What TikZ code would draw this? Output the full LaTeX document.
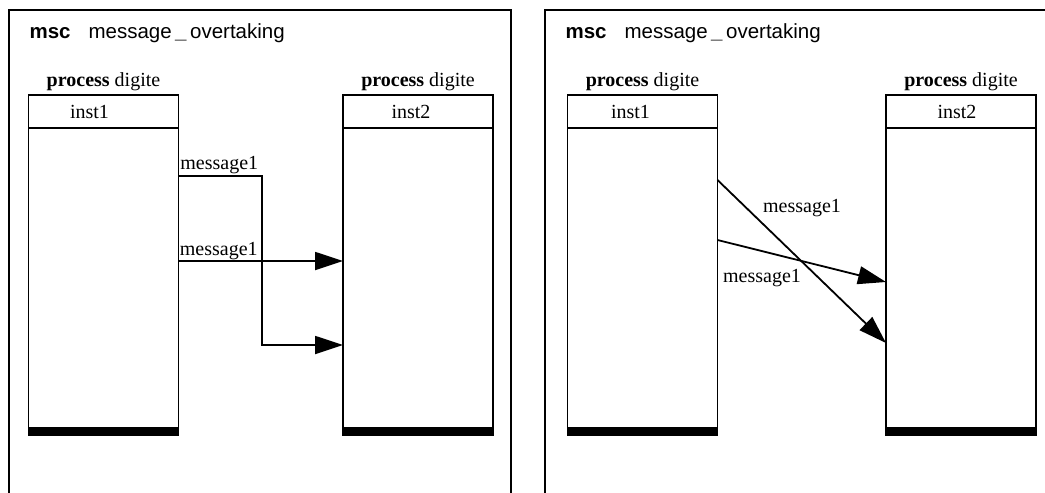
\documentclass[tikz,border=0pt]{standalone}
\usepackage{fontspec}
\setmainfont{Liberation Serif}
\newfontfamily\titlefont{Liberation Sans}
\usetikzlibrary{arrows.meta,positioning}

\begin{document}
\begin{tikzpicture}[
    x=1pt, y=-1pt,
    every node/.style={font=\fontsize{20}{24}\selectfont},
    frameline/.style={line width=1.8pt},
    insthead/.style={draw, line width=1.8pt, outer sep=0pt, inner sep=0pt, minimum width=150pt, minimum height=33pt},
    instbody/.style={draw, line width=1.8pt, outer sep=0pt, inner sep=0pt, minimum width=150pt, minimum height=307pt},
    instend/.style={line width=8pt},
    msgarrow/.style={-{Triangle[length=28pt, width=18pt]}, line width=1.8pt},
    msglabel/.style={inner sep=1pt},
    mscname/.style={anchor=base west, font=\titlefont\fontsize{20.5}{24}\selectfont}
  ]
    \useasboundingbox (0,0) rectangle (1045,493);

    % left diagram
    \draw[frameline] (9,493) |- (511,10) -- (511,493);
    \node[mscname] (titleA) at (26,38) {\textbf{msc}\hspace{18pt}message\,\textbf{\_}\,overtaking};
    \node[insthead] (headA) at (103.5,111.5) {\hspace*{-28pt}inst1};
    \node[instbody, below=0pt of headA] (bodyA) {};
    \node[insthead] (headB) at (418,111.5) {\hspace*{-14pt}inst2};
    \node[instbody, below=0pt of headB] (bodyB) {};
    \node[anchor=base] (procA) at (headA.north |- 0,86) {\textbf{process} digite};
    \node[anchor=base] (procB) at (headB.north |- 0,86) {\textbf{process} digite};
    \draw[instend] ([yshift=4pt]bodyA.south west) -- ([yshift=4pt]bodyA.south east);
    \draw[instend] ([yshift=4pt]bodyB.south west) -- ([yshift=4pt]bodyB.south east);
    \coordinate (bendA) at (262,345);
    \draw[msgarrow] (bodyA.east |- 0,176) node[msglabel, above right] {message1} -| (bendA) -- (bodyB.west |- bendA);
    \draw[msgarrow] (bodyA.east |- 0,261) node[msglabel, above right, inner sep=0.5pt] {message1} -- (bodyB.west |- 0,261);

    % right diagram
    \draw[frameline] (545,493) |- (1046,10);
    \node[mscname] (titleC) at (562,38) {\textbf{msc}\hspace{18pt}message\,\textbf{\_}\,overtaking};
    \node[insthead] (headC) at (642.5,111.5) {\hspace*{-24pt}inst1};
    \node[instbody, below=0pt of headC] (bodyC) {};
    \node[insthead] (headD) at (961,111.5) {\hspace*{-8pt}inst2};
    \node[instbody, below=0pt of headD] (bodyD) {};
    \node[anchor=base] (procC) at (headC.north |- 0,86) {\textbf{process} digite};
    \node[anchor=base] (procD) at (headD.north |- 0,86) {\textbf{process} digite};
    \draw[instend] ([yshift=4pt]bodyC.south west) -- ([yshift=4pt]bodyC.south east);
    \draw[instend] ([yshift=4pt]bodyD.south west) -- ([yshift=4pt]bodyD.south east);
    \draw[msgarrow] (bodyC.east |- 0,180) -- (bodyD.west |- 0,343);
    \draw[msgarrow] (bodyC.east |- 0,240) -- (bodyD.west |- 0,282);
    \node[msglabel] (labC) at (802,208) {message1};
    \node[msglabel] (labD) at (762,278) {message1};
\end{tikzpicture}
\end{document}
